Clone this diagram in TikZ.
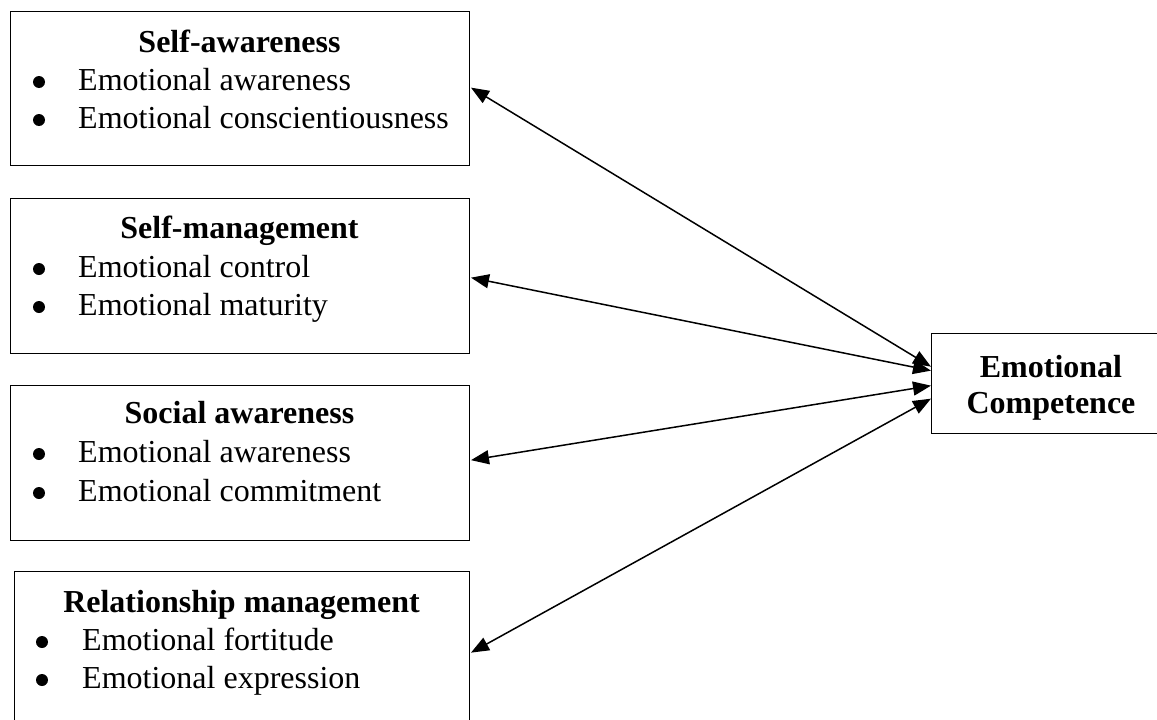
\documentclass[tikz,border=0pt]{standalone}
\usepackage{fontspec}
\setmainfont{Liberation Serif}
\usetikzlibrary{arrows.meta}
\begin{document}
\begin{tikzpicture}[x=1pt,y=-1pt,
  box/.style={draw=black, line width=1.3pt, rectangle, inner sep=0pt, anchor=north west},
  ttl/.style={anchor=base, inner sep=0pt, font=\fontsize{32}{38}\selectfont\bfseries},
  itm/.style={anchor=base west, inner sep=0pt, font=\fontsize{32}{38}\selectfont},
  bul/.style={circle, fill=black, inner sep=0pt, minimum size=12pt},
  link/.style={line width=1.5pt, {Triangle[length=18pt,width=14pt]}-{Triangle[length=18pt,width=14pt]}}]
\useasboundingbox (0,0) rectangle (1157,720);
% boxes
\node[box, minimum width=459pt, minimum height=154pt] (b1) at (10,11) {};
\node[box, minimum width=459pt, minimum height=155pt] (b2) at (10,198) {};
\node[box, minimum width=459pt, minimum height=155pt] (b3) at (10,385) {};
\node[box, minimum width=455pt, minimum height=154pt] (b4) at (14,571) {};
\node[box, minimum width=240pt, minimum height=100pt] (ec) at (931,333) {};
% box 1
\node[ttl] (t1) at (239.5,52) {Self-awareness};
\node[bul] (p11) at (39,82) {};
\node[itm] (i11) at (78,90) {Emotional awareness};
\node[bul] (p12) at (39,120) {};
\node[itm] (i12) at (78,128) {Emotional conscientiousness};
% box 2
\node[ttl] (t2) at (239.5,238) {Self-management};
\node[bul] (p21) at (39,269) {};
\node[itm] (i21) at (78,277) {Emotional control};
\node[bul] (p22) at (39,307) {};
\node[itm] (i22) at (78,315) {Emotional maturity};
% box 3
\node[ttl] (t3) at (239.5,423) {Social awareness};
\node[bul] (p31) at (39,454) {};
\node[itm] (i31) at (78,462) {Emotional awareness};
\node[bul] (p32) at (39,493) {};
\node[itm] (i32) at (78,501) {Emotional commitment};
% box 4
\node[ttl] (t4) at (241.5,612) {Relationship management};
\node[bul] (p41) at (42,642) {};
\node[itm] (i41) at (82,650) {Emotional fortitude};
\node[bul] (p42) at (42,680) {};
\node[itm] (i42) at (82,688) {Emotional expression};
% EC
\node[ttl] (e1) at (1051,377) {Emotional};
\node[ttl] (e2) at (1051,413) {Competence};
% connectors
\draw[link] ([xshift=0.7pt,yshift=1pt]b1.east) -- ([yshift=17pt]ec.west);
\draw[link] ([xshift=0.7pt,yshift=-1.5pt]b2.east) -- ([yshift=13pt]ec.west);
\draw[link] ([xshift=0.7pt,yshift=3pt]b3.east) -- ([yshift=-2pt]ec.west);
\draw[link] ([xshift=0.7pt,yshift=-4pt]b4.east) -- ([yshift=-15pt]ec.west);
\end{tikzpicture}
\end{document}
